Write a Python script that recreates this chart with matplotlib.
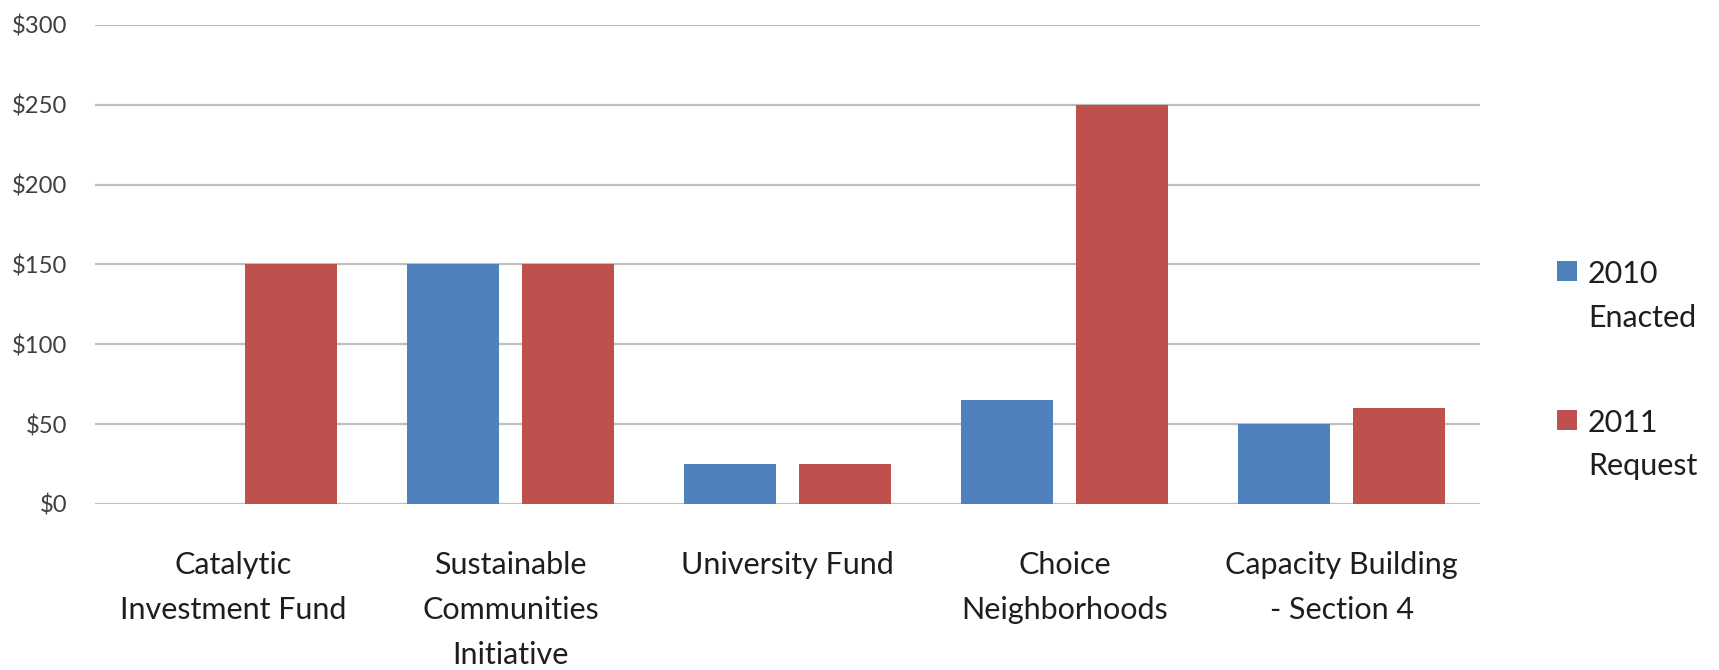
import numpy as np
import matplotlib.pyplot as plt
from matplotlib.patches import Rectangle
from matplotlib.ticker import FuncFormatter

# HUD program funding, millions of dollars
programs = [
    "Catalytic\nInvestment Fund",
    "Sustainable\nCommunities\nInitiative",
    "University Fund",
    "Choice\nNeighborhoods",
    "Capacity Building\n- Section 4",
]
enacted_2010 = [0, 150, 25, 65, 50]
request_2011 = [150, 150, 25, 250, 60]
series_names = [("2010", "Enacted"), ("2011", "Request")]

BLUE = "#4F81BD"
RED = "#C0504D"
GRID = "#BEBEBE"
TEXT = "#1E1E1E"

plt.rcParams["font.family"] = ["Lato", "DejaVu Sans"]

W, H = 1719, 670
fig = plt.figure(figsize=(W / 100, H / 100), dpi=100)
ax = fig.add_axes([0.0553, 0.2478, 0.8057, 0.7149])

x = np.arange(len(programs))
width = 0.332
offset = 0.2076
ax.bar(x - offset, enacted_2010, width, color=BLUE, zorder=3)
ax.bar(x + offset, request_2011, width, color=RED, zorder=3)

ax.set_xlim(-0.5, len(programs) - 0.5)
ax.set_ylim(0, 300)
ax.set_yticks(range(0, 301, 50))
ax.yaxis.set_major_formatter(FuncFormatter(lambda v, _: f"${v:.0f}"))
ax.grid(axis="y", color=GRID, linewidth=1.6, zorder=0)
ax.set_axisbelow(True)

for side in ["left", "right", "top", "bottom"]:
    ax.spines[side].set_visible(False)

ax.set_xticks(x)
ax.set_xticklabels(programs, fontsize=22, color=TEXT, linespacing=1.73, va="top")
ax.tick_params(axis="x", length=0, pad=34)
ax.tick_params(axis="y", length=0, pad=20, labelsize=17.2, labelcolor="#404040")

# legend: square beside the first line of a two-line label
legend_colors = [BLUE, RED]
legend_baselines = [(283, 327), (432, 475)]
for color, (top_line, bottom_line), (b1, b2) in zip(legend_colors, series_names, legend_baselines):
    fig.add_artist(Rectangle((1557 / W, 1 - b1 / H + 2 / H), 20 / W, 20 / H,
                             transform=fig.transFigure, color=color, lw=0))
    fig.text(1588 / W, 1 - b1 / H, top_line, fontsize=22, color=TEXT, va="baseline")
    fig.text(1588 / W, 1 - b2 / H, bottom_line, fontsize=22, color=TEXT, va="baseline")

fig.savefig("out.png", dpi=100)
